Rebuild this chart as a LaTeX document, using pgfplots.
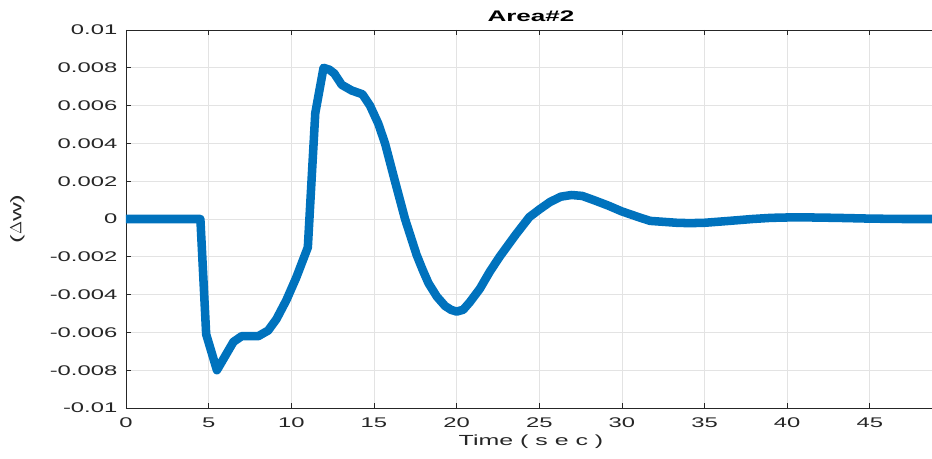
\documentclass[border=0pt]{standalone}
\usepackage{fontspec}
\setmainfont{Liberation Sans}[FakeStretch=1.7]
\usepackage{pgfplots}
\pgfplotsset{compat=1.18}
\definecolor{mblue}{HTML}{0072BD}
\definecolor{axgray}{HTML}{262626}
\definecolor{gridgray}{HTML}{E3E3E3}
\begin{document}
\begin{tikzpicture}
\begin{axis}[
  scale only axis,
  width=607.5pt, height=283.5pt,
  xmin=0, xmax=49, ymin=-0.01, ymax=0.01,
  xtick={0,5,...,45},
  ytick={-0.01,-0.008,-0.006,-0.004,-0.002,0,0.002,0.004,0.006,0.008,0.01},
  yticklabels={-0.01,-0.008,-0.006,-0.004,-0.002,0,0.002,0.004,0.006,0.008,0.01},
  scaled y ticks=false,
  /pgf/number format/assume math mode=true,
  tick label style={font=\fontsize{10.5}{12}\selectfont, text=axgray},
  xticklabel style={yshift=-4pt},
  yticklabel style={xshift=-3pt},
  tick align=inside,
  major tick length=4pt,
  xtick pos=both,
  ytick pos=left,
  axis line style={draw=axgray, line width=0.6pt},
  every tick/.style={draw=axgray, line width=0.6pt},
  grid=major,
  major grid style={draw=gridgray, line width=0.6pt},
  title={\bfseries Area\#2},
  title style={font=\fontsize{11.5}{13}\selectfont, yshift=-3pt},
  xlabel={Time ( s e c )},
  xlabel style={font=\fontsize{11}{13}\selectfont, text=axgray, yshift=2pt},
  ylabel={($\Delta$w)},
  ylabel style={font=\fontsize{11.5}{13}\selectfont, text=axgray, yshift=12pt},
  clip=true,
]
\addplot[color=mblue, line width=6.4pt, line join=round, line cap=round] coordinates {
(0,0) (4.5,0) (4.85,-0.0061) (5.5,-0.0080) (6.5,-0.0065) (7.0,-0.0062) (8.0,-0.0062)
(8.6,-0.0059) (9.1,-0.0053) (9.7,-0.0043) (10.3,-0.0031) (11.0,-0.0015) (11.45,0.0056)
(11.95,0.0080) (12.3,0.0079) (12.6,0.0077) (13.05,0.0071) (13.65,0.0068) (14.3,0.0066) (14.76,0.0060)
(15.26,0.00505) (15.67,0.0040) (16.27,0.0020) (16.88,0.0) (17.58,-0.0019) (17.95,-0.0027)
(18.3,-0.0034) (18.8,-0.0041) (19.3,-0.0046) (19.65,-0.0048) (20.0,-0.0049) (20.4,-0.0048)
(20.8,-0.0044) (21.4,-0.0037) (22.0,-0.0028) (22.6,-0.0020) (23.6,-0.0008) (24.4,0.0001)
(25.0,0.0005) (25.65,0.0009)
(26.3,0.00118) (26.95,0.00127) (27.6,0.00122) (28.3,0.0010) (29.2,0.0007) (30.0,0.0004)
(31.0,0.0001) (31.7,-0.0001) (32.5,-0.00015) (33.3,-0.0002) (34.1,-0.00022) (35.0,-0.0002)
(36.5,-0.0001) (37.9,0.0) (39.0,0.00006) (40.0,0.00008) (41.5,0.00008) (43.0,0.00006)
(45.0,0.00002) (47,0.0) (49,0.0)
};
\end{axis}
\pgfresetboundingbox
\path[use as bounding box] (-94.5pt,-38.25pt) rectangle (604.5pt,306pt);
\end{tikzpicture}
\end{document}
